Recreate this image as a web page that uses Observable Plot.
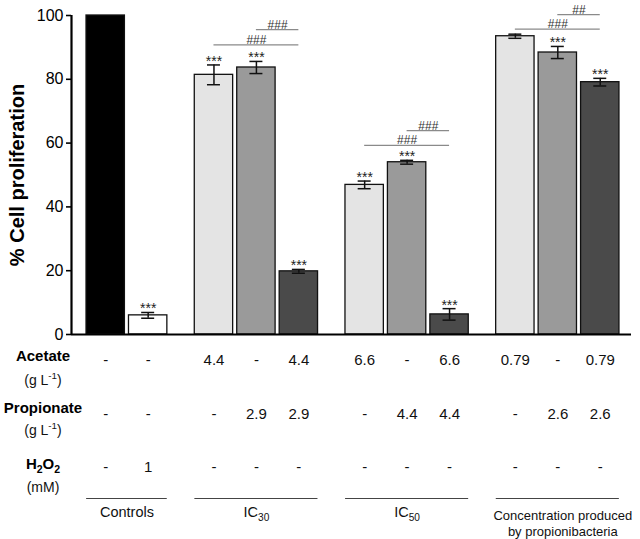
<!DOCTYPE html>
<html>
<head>
<meta charset="utf-8">
<script src="https://cdn.jsdelivr.net/npm/d3@7"></script>
<script src="https://cdn.jsdelivr.net/npm/@observablehq/plot@0.6"></script>
<style>
  body { margin: 0; background: #fff; }
  #chart svg { display: block; }
</style>
</head>
<body>
<div id="chart"></div>
<script>
// ---------------- data ----------------
const groups = ["Controls", "IC₃₀", "IC₅₀", "Concentration produced\nby propionibacteria"];
const barGroup = [0, 0, 1, 1, 1, 2, 2, 2, 3, 3, 3];
const treatments = ["Control", "H₂O₂", "Acetate", "Propionate", "Acetate + Propionate",
                    "Acetate", "Propionate", "Acetate + Propionate",
                    "Acetate", "Propionate", "Acetate + Propionate"];
const proliferation = [100, 6, 81.4, 83.7, 19.8, 46.9, 54.0, 6.3, 93.5, 88.4, 79.1];
const sem = [0, 0.9, 3.1, 1.9, 0.6, 1.2, 0.6, 1.8, 0.65, 1.9, 1.2];
const stars = ["", "***", "***", "***", "***", "***", "***", "***", "", "***", "***"];
const acetate = ["-", "-", "4.4", "-", "4.4", "6.6", "-", "6.6", "0.79", "-", "0.79"];
const propionate = ["-", "-", "-", "2.9", "2.9", "-", "4.4", "4.4", "-", "2.6", "2.6"];
const h2o2 = ["-", "1", "-", "-", "-", "-", "-", "-", "-", "-", "-"];
const rowLabels = ["Acetate", "Propionate", "H₂O₂"];
const rowUnits = ["(g L⁻¹)", "(g L⁻¹)", "(mM)"];
const comparisons = [
  {from: 2, to: 4, level: 90.8, label: "###"},
  {from: 3, to: 4, level: 95.6, label: "###"},
  {from: 5, to: 7, level: 59.3, label: "###"},
  {from: 6, to: 7, level: 63.9, label: "###"},
  {from: 8, to: 10, level: 95.7, label: "###"},
  {from: 9, to: 10, level: 100.3, label: "##"}
];
const yTicks = [0, 20, 40, 60, 80, 100];
const yLabel = "% Cell proliferation";
const kindDomain = ["Control", "H₂O₂", "Acetate", "Propionate", "Acetate + Propionate"];
const kindColors = ["#000000", "#ffffff", "#e4e4e4", "#9a9a9a", "#4a4a4a"];

// ---------------- layout (code, not data) ----------------
const GAP = 0.55;     // extra slot space between groups
const HW = 0.452;     // half bar width in slot units
const CAP = 0.153;    // half cap width
const slot = i => i + GAP * barGroup[i];
const xDomain = [-0.806, 12.386];
const rows = [acetate, propionate, h2o2];
const rowValueDy = [30, 84, 137];
const rowLabelDy = [26, 78, 134];
const rowUnitDy = [50, 100, 157];

const bars = proliferation.map((v, i) => ({
  i, slot: slot(i), value: v, sem: sem[i], kind: treatments[i], stars: stars[i]
}));
const errs = bars.filter(d => d.sem > 0);
const caps = errs.flatMap(d => [
  {x1: d.slot - CAP, x2: d.slot + CAP, y: d.value - d.sem},
  {x1: d.slot - CAP, x2: d.slot + CAP, y: d.value + d.sem}
]);
const groupData = groups.map((name, g) => {
  const idx = barGroup.map((b, i) => b === g ? i : -1).filter(i => i >= 0);
  const a = slot(idx[0]), b = slot(idx[idx.length - 1]);
  return {name, a, b, mid: (a + b) / 2, long: name.includes("\n")};
});

const marks = [
  Plot.rectY(bars, {x1: d => d.slot - HW, x2: d => d.slot + HW, y1: 0, y2: "value",
                    fill: "kind", stroke: "#111", strokeWidth: 1.3}),
  Plot.ruleX(errs, {x: "slot", y1: d => d.value - d.sem, y2: d => d.value + d.sem,
                    stroke: "#111", strokeWidth: 1.5}),
  Plot.ruleY(caps, {x1: "x1", x2: "x2", y: "y", stroke: "#111", strokeWidth: 1.5}),
  Plot.text(bars.filter(d => d.stars), {x: "slot", y: d => d.value + d.sem, text: "stars",
                    lineAnchor: "bottom", dy: 1, fontSize: 14, fill: "#222"}),
  Plot.ruleY(comparisons, {x1: d => slot(d.from), x2: d => slot(d.to), y: "level",
                    stroke: "#8a8a8a", strokeWidth: 1.3}),
  Plot.text(comparisons, {x: d => (slot(d.from) + slot(d.to)) / 2, y: "level", text: "label",
                    lineAnchor: "bottom", dy: -1, fontSize: 12, fill: "#333"}),
  Plot.ruleX([xDomain[0]], {y1: 0, y2: 100, stroke: "#000", strokeWidth: 2.2}),
  Plot.ruleY([0], {stroke: "#000", strokeWidth: 2}),
  Plot.axisY({ticks: yTicks, tickSize: 5, tickPadding: 3, fontSize: 16, label: null,
              strokeWidth: 1.6}),
  Plot.text([yLabel], {y: [50], frameAnchor: "left", textAnchor: "middle", dx: -53.5, rotate: -90,
                    fontSize: 20, fontWeight: "bold", fill: "#000"}),
  // table rows
  ...rows.map((vals, r) => Plot.text(bars, {x: "slot", text: d => vals[d.i], frameAnchor: "bottom",
                    dy: rowValueDy[r], fontSize: 15, fill: "#111"})),
  ...rowLabels.map((lab, r) => Plot.text([lab], {frameAnchor: "bottom-left", textAnchor: "middle",
                    dx: -28.5, dy: rowLabelDy[r], fontSize: 15, fontWeight: "bold", fill: "#000"})),
  ...rowUnits.map((u, r) => Plot.text([u], {frameAnchor: "bottom-left", textAnchor: "middle",
                    dx: -28.5, dy: rowUnitDy[r], fontSize: 14, fill: "#111"})),
  // group brackets
  Plot.ruleY(groupData, {x1: d => d.a - 0.45, x2: d => d.b + 0.45, y: () => 0, dy: 164,
                    stroke: "#444", strokeWidth: 1.2}),
  Plot.text(groupData.filter(d => !d.long), {x: "mid", text: "name", frameAnchor: "bottom",
                    lineAnchor: "top", dy: 172, fontSize: 14.5, fill: "#111"}),
  Plot.text(groupData.filter(d => d.long), {x: "mid", text: "name", frameAnchor: "bottom",
                    lineAnchor: "top", dx: 5, dy: 173, fontSize: 13, lineHeight: 1.3, fill: "#111"})
];

const chart = Plot.plot({
  width: 640,
  height: 539,
  marginLeft: 71,
  marginRight: 9,
  marginTop: 15,
  marginBottom: 205,
  style: {fontFamily: "'Liberation Sans', Arial, Helvetica, sans-serif", background: "#fff", color: "#000"},
  x: {type: "linear", domain: xDomain, axis: null},
  y: {domain: [0, 100], axis: null},
  color: {type: "ordinal", domain: kindDomain, range: kindColors},
  marks
});
document.getElementById("chart").appendChild(chart);

// render unicode sub/superscripts as real sub/superscript tspans
const SUB = {"₀": "0", "₁": "1", "₂": "2", "₃": "3", "₄": "4", "₅": "5"};
const SUP = {"⁻": "-", "¹": "1"};
chart.querySelectorAll("text").forEach(t => {
  const s = t.textContent;
  if (t.children.length || !/[₀-₉⁻¹]/.test(s)) return;
  const fs = parseFloat(getComputedStyle(t).fontSize) || 14;
  const segs = [];
  for (const ch of s) {
    const type = SUB[ch] ? "sub" : SUP[ch] ? "sup" : "base";
    const c = SUB[ch] || SUP[ch] || ch;
    if (segs.length && segs[segs.length - 1].type === type) segs[segs.length - 1].text += c;
    else segs.push({type, text: c});
  }
  t.textContent = "";
  let shift = 0;
  for (const seg of segs) {
    const target = seg.type === "sub" ? 0.3 * fs : seg.type === "sup" ? -0.4 * fs : 0;
    const ts = document.createElementNS("http://www.w3.org/2000/svg", "tspan");
    if (target !== shift) ts.setAttribute("dy", (target - shift) + "px");
    if (seg.type !== "base") ts.setAttribute("font-size", (0.7 * fs) + "px");
    ts.textContent = seg.text;
    t.appendChild(ts);
    shift = target;
  }
});
</script>
</body>
</html>
